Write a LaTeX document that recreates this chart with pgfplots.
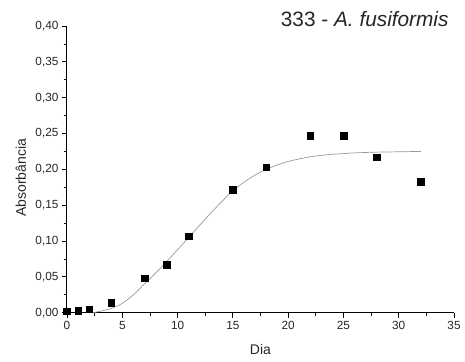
\documentclass[border=0pt]{standalone}
\usepackage{pgfplots}
\pgfplotsset{compat=1.18}
\usepackage{fontspec}
\setmainfont{Liberation Sans}
\begin{document}
\begin{tikzpicture}
\path[use as bounding box] (-67pt,-48.3pt) rectangle (398pt,312.7pt);
\begin{axis}[
  at={(0,0)}, anchor=south west,
  scale only axis,
  width=387pt, height=286.7pt,
  xmin=0, xmax=35, ymin=0, ymax=0.40,
  axis lines=left,
  axis line style={line width=1pt, -},
  xtick={0,5,...,35},
  ytick={0,0.05,...,0.40},
  minor x tick num=1,
  minor y tick num=1,
  tick align=outside,
  major tick length=5pt,
  minor tick length=3pt,
  tick style={black, line width=0.8pt},
  /pgf/number format/assume math mode=true,
  yticklabel style={/pgf/number format/.cd, fixed, fixed zerofill, precision=2, use comma},
  xticklabel style={/pgf/number format/.cd, fixed, precision=0},
  tick label style={font=\fontsize{11.8}{13}\selectfont, text=black!85},
  scaled y ticks=false,
  xlabel={Dia},
  ylabel={Absorbância},
  label style={font=\fontsize{14}{16}\selectfont, text=black!85},
  xlabel style={at={(axis description cs:0.5,-0.127)}, anchor=center},
  ylabel style={at={(axis description cs:-0.119,0.47)}, anchor=center},
  clip=false,
]
\addplot[gray!80, line width=0.7pt, smooth] coordinates {
(2.35,0) (3,0.002) (4,0.006) (5,0.013) (6,0.025) (7,0.040) (8,0.055) (9,0.071) (10,0.088)
(11,0.105) (12,0.122) (13,0.139) (14,0.155) (15,0.170) (16,0.182) (17,0.192) (18,0.200)
(19,0.206) (20,0.211) (21,0.2145) (22,0.2175) (23,0.2195) (24,0.221) (25,0.222) (26,0.223)
(28,0.224) (30,0.2245) (32,0.225)
};
\addplot[only marks, mark=square*, mark size=3.3pt, mark options={fill=black, draw=black}] coordinates {
(0,0.002) (1,0.003) (2,0.005) (4,0.014) (7,0.048) (9,0.067) (11,0.107) (15,0.172)
(18,0.203) (22,0.247) (25,0.247) (28,0.217) (32,0.183)
};
\node[anchor=base east, font=\fontsize{20.8}{23}\selectfont, text=black!85] at (rel axis cs:0.995,1) {333 - \textit{A. fusiformis}};
\end{axis}
\end{tikzpicture}
\end{document}
